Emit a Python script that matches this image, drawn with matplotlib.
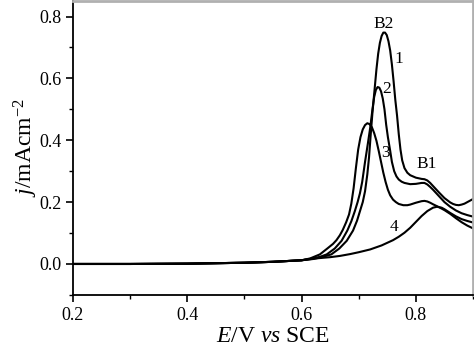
import numpy as np
import matplotlib
matplotlib.use("Agg")
import matplotlib.pyplot as plt
from matplotlib.ticker import MultipleLocator

plt.rcParams['font.family'] = ['Liberation Serif', 'DejaVu Serif']
plt.rcParams['mathtext.fontset'] = 'custom'
plt.rcParams['mathtext.rm'] = 'Liberation Serif'
plt.rcParams['mathtext.it'] = 'Liberation Serif:italic'

# 1. DATA
base_x = [0.20, 0.30, 0.40, 0.50, 0.55, 0.60]
base_y = [0.000, 0.000, 0.001, 0.004, 0.007, 0.012]

c1_x = base_x + [0.62, 0.635, 0.652, 0.666, 0.679, 0.69, 0.697, 0.702, 0.707, 0.711,
                 0.715, 0.718, 0.721, 0.724, 0.728, 0.731, 0.734, 0.737, 0.740, 0.743,
                 0.746, 0.749, 0.752, 0.755, 0.758, 0.761, 0.764, 0.767, 0.770, 0.773,
                 0.776, 0.780, 0.785, 0.79, 0.80, 0.81, 0.815, 0.82, 0.825, 0.83,
                 0.835, 0.84, 0.85, 0.86, 0.865, 0.87, 0.875, 0.88, 0.885, 0.89,
                 0.895, 0.90]
c1_y = base_y + [0.016, 0.022, 0.031, 0.05, 0.075, 0.108, 0.14, 0.17, 0.20, 0.235,
                 0.29, 0.345, 0.42, 0.49, 0.57, 0.63, 0.68, 0.715, 0.737, 0.748,
                 0.748, 0.74, 0.72, 0.69, 0.645, 0.59, 0.53, 0.48, 0.42, 0.37,
                 0.335, 0.31, 0.295, 0.287, 0.279, 0.275, 0.274, 0.27, 0.262, 0.252,
                 0.242, 0.232, 0.213, 0.199, 0.194, 0.191, 0.19, 0.192, 0.195, 0.20,
                 0.205, 0.21]

c2_x = base_x + [0.62, 0.632, 0.644, 0.658, 0.67, 0.68, 0.687, 0.693, 0.698, 0.702,
                 0.706, 0.711, 0.716, 0.72, 0.724, 0.727, 0.730, 0.733, 0.736, 0.739,
                 0.742, 0.745, 0.748, 0.751, 0.755, 0.758, 0.762, 0.766, 0.77, 0.775,
                 0.78, 0.79, 0.80, 0.81, 0.815, 0.82, 0.825, 0.83, 0.84, 0.85,
                 0.86, 0.87, 0.88, 0.89, 0.90]
c2_y = base_y + [0.018, 0.023, 0.031, 0.05, 0.075, 0.108, 0.138, 0.17, 0.20, 0.228,
                 0.265, 0.33, 0.39, 0.44, 0.50, 0.54, 0.563, 0.572, 0.57, 0.558,
                 0.535, 0.50, 0.45, 0.41, 0.366, 0.33, 0.30, 0.283, 0.273, 0.266,
                 0.262, 0.258, 0.259, 0.262, 0.262, 0.257, 0.249, 0.24, 0.22, 0.20,
                 0.185, 0.173, 0.164, 0.158, 0.153]

c3_x = base_x + [0.615, 0.632, 0.645, 0.655, 0.661, 0.667, 0.672, 0.678, 0.683, 0.687,
                 0.691, 0.695, 0.699, 0.703, 0.707, 0.711, 0.715, 0.719, 0.723, 0.727,
                 0.731, 0.735, 0.739, 0.743, 0.747, 0.751, 0.755, 0.76, 0.765, 0.77,
                 0.778, 0.785, 0.79, 0.80, 0.81, 0.815, 0.82, 0.825, 0.83, 0.84,
                 0.85, 0.86, 0.87, 0.88, 0.89, 0.90]
c3_y = base_y + [0.018, 0.031, 0.05, 0.065, 0.077, 0.093, 0.11, 0.135, 0.16, 0.195,
                 0.245, 0.31, 0.37, 0.41, 0.435, 0.449, 0.455, 0.452, 0.442, 0.423,
                 0.398, 0.365, 0.33, 0.295, 0.265, 0.24, 0.222, 0.208, 0.20, 0.194,
                 0.19, 0.19, 0.192, 0.198, 0.203, 0.204, 0.202, 0.198, 0.193, 0.184,
                 0.174, 0.162, 0.148, 0.135, 0.124, 0.115]

c4_x = base_x + [0.625, 0.65, 0.667, 0.685, 0.70, 0.72, 0.74, 0.76, 0.77, 0.78,
                 0.79, 0.80, 0.81, 0.82, 0.83, 0.837, 0.845, 0.85, 0.86, 0.87,
                 0.88, 0.89, 0.90]
c4_y = base_y + [0.018, 0.022, 0.026, 0.032, 0.038, 0.047, 0.06, 0.077, 0.088, 0.101,
                 0.117, 0.136, 0.155, 0.171, 0.182, 0.185, 0.182, 0.177, 0.165, 0.154,
                 0.145, 0.139, 0.134]

curves = [(c1_x, c1_y), (c2_x, c2_y), (c3_x, c3_y), (c4_x, c4_y)]

labels = ['B2', '1', '2', '3', 'B1', '4']
label_x = [0.743, 0.770, 0.748, 0.746, 0.818, 0.761]
label_y = [0.777, 0.664, 0.567, 0.360, 0.324, 0.118]

# 2. PLOT
fig = plt.figure(figsize=(4.74, 3.49), dpi=100)
ax = fig.add_axes([0.154, 0.155, 0.844, 0.842])

for xs, ys in curves:
    ax.plot(xs, ys, color='black', lw=1.5, solid_joinstyle='round')

for t, x, y in zip(labels, label_x, label_y):
    ax.text(x, y, t, fontsize=12.5, ha='center', va='center')

ax.set_xlim(0.2, 0.9)
ax.set_ylim(-0.1, 0.85)
ax.xaxis.set_major_locator(MultipleLocator(0.2))
ax.xaxis.set_minor_locator(MultipleLocator(0.1))
ax.yaxis.set_major_locator(MultipleLocator(0.2))
ax.yaxis.set_minor_locator(MultipleLocator(0.1))
ax.xaxis.set_major_formatter(lambda v, p: f"{v:.1f}")
ax.yaxis.set_major_formatter(lambda v, p: f"{v:.1f}")
ax.tick_params(which='major', direction='out', length=5, width=1.2, labelsize=13)
ax.tick_params(which='minor', direction='out', length=3, width=1)

for s in ['left', 'bottom']:
    ax.spines[s].set_linewidth(1.3)
for s in ['top', 'right']:
    ax.spines[s].set_color('#b0b0b0')
    ax.spines[s].set_linewidth(2)

ax.set_xlabel(r'$\it{E}$/V $\it{vs}$ SCE', fontsize=17, labelpad=2)
ax.set_ylabel(r'$\it{j}$/mAcm$^{-2}$', fontsize=17, labelpad=-1)

fig.savefig('out.png', dpi=100)
